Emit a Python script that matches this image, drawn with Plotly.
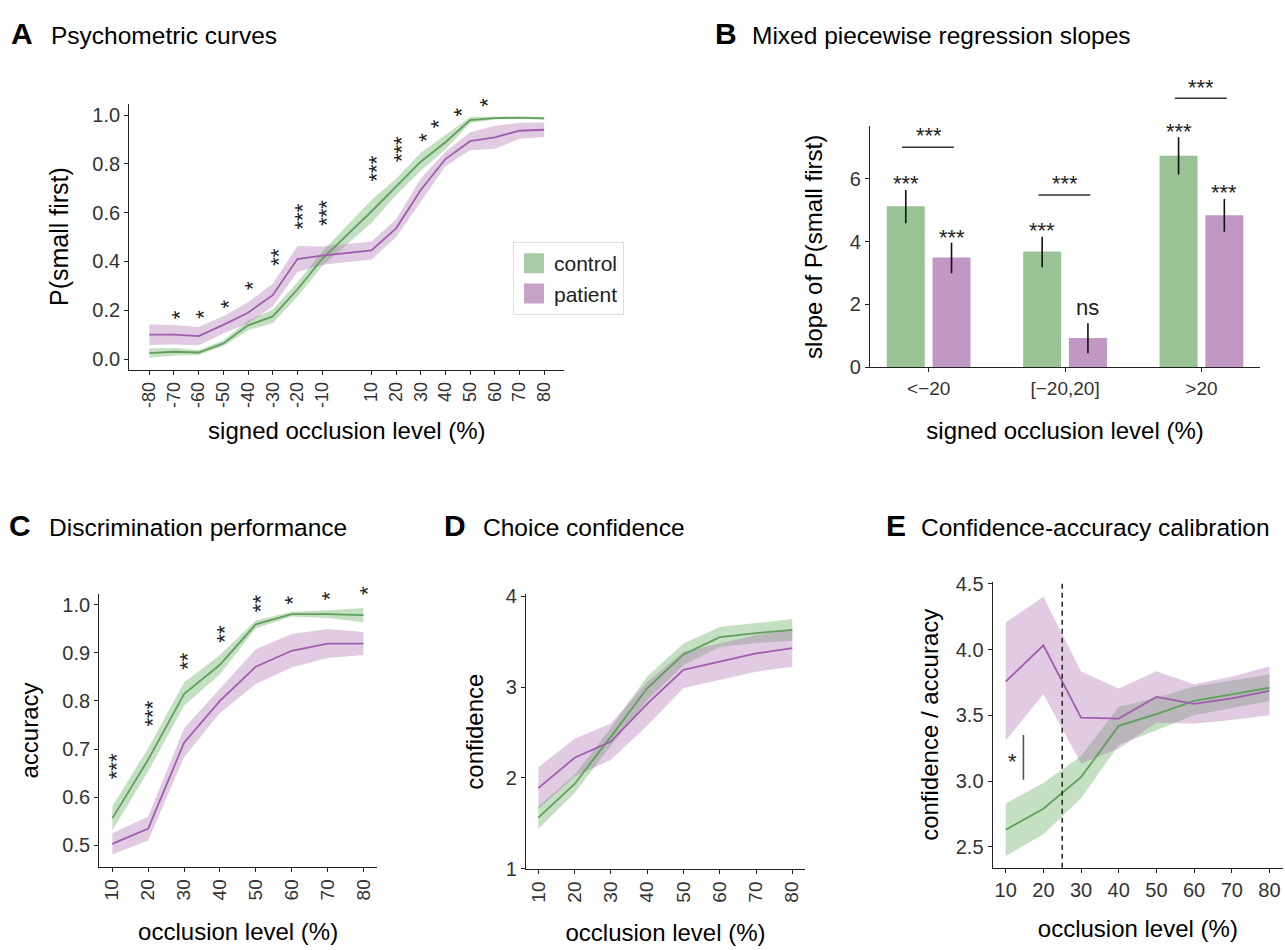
import plotly.graph_objects as go

FONT = "Liberation Sans, Arial, sans-serif"
W, H = 1285, 950

GREEN_LINE = "#5FA05B"
PURPLE_LINE = "#A05CAD"
GREEN_FILL = "rgba(110,175,105,0.40)"
PURPLE_FILL = "rgba(165,105,175,0.35)"
GREEN_BAR = "#99C295"
PURPLE_BAR = "#C197C4"
GREEN_KEY = "#A8CCA5"
PURPLE_KEY = "#C6A2C9"
TICK_COLOR = "#333333"

groups = ["control", "patient"]

# ---------------- Panel A: psychometric curves ----------------
a_levels = [-80, -70, -60, -50, -40, -30, -20, -10, 10, 20, 30, 40, 50, 60, 70, 80]
a_control = [0.024, 0.030, 0.027, 0.064, 0.138, 0.175, 0.285, 0.410, 0.605, 0.706, 0.809, 0.889, 0.980, 0.988, 0.990, 0.987]
a_control_se = [0.019, 0.015, 0.010, 0.012, 0.020, 0.028, 0.030, 0.030, 0.047, 0.033, 0.037, 0.030, 0.012, 0.006, 0.005, 0.006]
a_patient = [0.100, 0.100, 0.094, 0.140, 0.190, 0.262, 0.410, 0.424, 0.445, 0.536, 0.693, 0.820, 0.893, 0.909, 0.936, 0.940]
a_patient_se = [0.042, 0.040, 0.037, 0.035, 0.043, 0.047, 0.053, 0.037, 0.037, 0.037, 0.047, 0.030, 0.037, 0.047, 0.033, 0.030]
a_sig_x = [-70, -60, -50, -40, -30, -20, -10, 10, 20, 30, 35.5, 44.5, 55]
a_sig_y = [0.184, 0.184, 0.225, 0.300, 0.418, 0.586, 0.600, 0.783, 0.861, 0.910, 0.964, 1.013, 1.053]
a_sig_lab = ["*", "*", "*", "*", "**", "***", "***", "***", "***", "*", "*", "*", "*"]

# ---------------- Panel B: regression slopes ----------------
b_categories = ["<\u221220", "[\u221220,20]", ">20"]
b_control = [5.12, 3.68, 6.73]
b_control_hi = [5.64, 4.15, 7.32]
b_control_lo = [4.58, 3.18, 6.13]
b_patient = [3.49, 0.93, 4.84]
b_patient_hi = [3.96, 1.40, 5.35]
b_patient_lo = [2.99, 0.45, 4.31]
b_control_lab = ["***", "***", "***"]
b_control_lab_y = [6.00, 4.50, 7.66]
b_patient_lab = ["***", "ns", "***"]
b_patient_lab_y = [4.29, 1.90, 5.71]
b_bracket_y = [7.00, 5.48, 8.56]
b_bracket_lab = ["***", "***", "***"]
b_bracket_lab_y = [7.54, 6.00, 9.07]

# ---------------- Panels C, D, E ----------------
occ_levels = [10, 20, 30, 40, 50, 60, 70, 80]

c_control = [0.556, 0.678, 0.814, 0.875, 0.959, 0.980, 0.980, 0.978]
c_control_se = [0.025, 0.024, 0.024, 0.020, 0.008, 0.005, 0.008, 0.015]
c_patient = [0.503, 0.535, 0.713, 0.800, 0.871, 0.904, 0.919, 0.919]
c_patient_se = [0.022, 0.025, 0.030, 0.025, 0.036, 0.035, 0.030, 0.024]
c_sig_x = [10, 19.7, 29.7, 39.8, 49.8, 58.9, 69.4, 79.6]
c_sig_y = [0.665, 0.774, 0.883, 0.940, 1.003, 1.010, 1.018, 1.030]
c_sig_lab = ["***", "***", "**", "**", "**", "*", "*", "*"]

d_control = [1.564, 1.934, 2.455, 2.987, 3.360, 3.550, 3.594, 3.630]
d_control_se = [0.125, 0.100, 0.100, 0.130, 0.120, 0.110, 0.110, 0.120]
d_patient = [1.888, 2.222, 2.400, 2.815, 3.190, 3.280, 3.370, 3.430]
d_patient_se = [0.230, 0.210, 0.200, 0.240, 0.200, 0.200, 0.200, 0.205]

e_control = [2.630, 2.790, 3.030, 3.420, 3.510, 3.610, 3.660, 3.710]
e_control_se = [0.200, 0.195, 0.160, 0.145, 0.124, 0.110, 0.105, 0.100]
e_patient = [3.756, 4.033, 3.483, 3.475, 3.640, 3.587, 3.630, 3.686]
e_patient_se = [0.450, 0.370, 0.350, 0.230, 0.195, 0.150, 0.165, 0.185]
e_cutoff = 25
e_sig_x = 11.9
e_sig_y = 3.19
e_sig_bar_x = 14.7
e_sig_bar_y = [3.01, 3.35]

panel_titles = ["Psychometric curves", "Mixed piecewise regression slopes",
                "Discrimination performance", "Choice confidence",
                "Confidence-accuracy calibration"]
panel_letters = ["A", "B", "C", "D", "E"]


def dom_x(p0, p1):
    return [p0 / W, p1 / W]


def dom_y(top, bottom):
    return [1 - bottom / H, 1 - top / H]


def ribbon(x, m, se, fill, xa, ya):
    lo = [a - b for a, b in zip(m, se)]
    hi = [a + b for a, b in zip(m, se)]
    return go.Scatter(x=list(x) + list(x)[::-1], y=hi + lo[::-1], mode="lines",
                      fill="toself", fillcolor=fill, line=dict(width=0),
                      hoverinfo="skip", showlegend=False, xaxis=xa, yaxis=ya)


def line(x, m, color, xa, ya, name):
    return go.Scatter(x=x, y=m, mode="lines", line=dict(color=color, width=1.8),
                      name=name, showlegend=False, xaxis=xa, yaxis=ya)


fig = go.Figure()

# Panel A
fig.add_trace(ribbon(a_levels, a_control, a_control_se, GREEN_FILL, "x", "y"))
fig.add_trace(ribbon(a_levels, a_patient, a_patient_se, PURPLE_FILL, "x", "y"))
fig.add_trace(line(a_levels, a_control, GREEN_LINE, "x", "y", groups[0]))
fig.add_trace(line(a_levels, a_patient, PURPLE_LINE, "x", "y", groups[1]))
# legend keys
for g, col in zip(groups, [GREEN_KEY, PURPLE_KEY]):
    fig.add_trace(go.Scatter(x=[None], y=[None], mode="markers", name=g,
                             marker=dict(symbol="square", size=16, color=col,
                                         line=dict(color=col, width=4)),
                             showlegend=True, xaxis="x", yaxis="y"))

# Panel B
b_x = list(range(len(b_categories)))
for vals, hi, lo, col, g in [(b_control, b_control_hi, b_control_lo, GREEN_BAR, groups[0]),
                             (b_patient, b_patient_hi, b_patient_lo, PURPLE_BAR, groups[1])]:
    fig.add_trace(go.Bar(x=b_x, y=vals, name=g, marker=dict(color=col, line=dict(width=0)),
                         error_y=dict(type="data", symmetric=False,
                                      array=[h - v for h, v in zip(hi, vals)],
                                      arrayminus=[v - l for v, l in zip(vals, lo)],
                                      color="#111111", thickness=1.6, width=0),
                         showlegend=False, xaxis="x2", yaxis="y2"))

# Panel C
fig.add_trace(ribbon(occ_levels, c_control, c_control_se, GREEN_FILL, "x3", "y3"))
fig.add_trace(ribbon(occ_levels, c_patient, c_patient_se, PURPLE_FILL, "x3", "y3"))
fig.add_trace(line(occ_levels, c_control, GREEN_LINE, "x3", "y3", groups[0]))
fig.add_trace(line(occ_levels, c_patient, PURPLE_LINE, "x3", "y3", groups[1]))

# Panel D
fig.add_trace(ribbon(occ_levels, d_control, d_control_se, GREEN_FILL, "x4", "y4"))
fig.add_trace(ribbon(occ_levels, d_patient, d_patient_se, PURPLE_FILL, "x4", "y4"))
fig.add_trace(line(occ_levels, d_control, GREEN_LINE, "x4", "y4", groups[0]))
fig.add_trace(line(occ_levels, d_patient, PURPLE_LINE, "x4", "y4", groups[1]))

# Panel E
fig.add_trace(ribbon(occ_levels, e_control, e_control_se, GREEN_FILL, "x5", "y5"))
fig.add_trace(ribbon(occ_levels, e_patient, e_patient_se, PURPLE_FILL, "x5", "y5"))
fig.add_trace(line(occ_levels, e_control, GREEN_LINE, "x5", "y5", groups[0]))
fig.add_trace(line(occ_levels, e_patient, PURPLE_LINE, "x5", "y5", groups[1]))


def axis(domain, rng, anchor, title, title_size=24, standoff=14, tickfont=20, **kw):
    d = dict(domain=domain, range=rng, anchor=anchor, showline=True, linecolor="#222222",
             linewidth=1.3, ticks="outside", ticklen=4, tickwidth=1.3, tickcolor="#222222",
             showgrid=False, zeroline=False,
             tickfont=dict(family=FONT, size=tickfont, color=TICK_COLOR),
             title=dict(text=title, font=dict(family=FONT, size=title_size, color="black"),
                        standoff=standoff))
    d.update(kw)
    return d


A_Y = [-0.043, 1.047]
B_Y = [0, 7.66]
C_Y = [0.456, 1.021]
D_Y = [1, 4.02]
E_Y = [2.34, 4.517]

layout = dict(
    width=W, height=H, margin=dict(l=0, r=0, t=0, b=0),
    paper_bgcolor="white", plot_bgcolor="white",
    font=dict(family=FONT, color="black"),
    barmode="group", bargap=0.329, bargroupgap=0.17,
    showlegend=True,
    legend=dict(x=513 / W, y=1 - 238 / H, xanchor="left", yanchor="top",
                bgcolor="white", bordercolor="#DDDDDD", borderwidth=1,
                font=dict(family=FONT, size=21, color="#222222"), tracegroupgap=0),
    xaxis=axis(dom_x(129.3, 564.4), [-88.1, 88.2], "y", "signed occlusion level (%)",
               standoff=15, tickfont=18, tickvals=a_levels, ticktext=[str(v) for v in a_levels],
               tickangle=-90),
    yaxis=axis(dom_y(96.7, 368.3), A_Y, "x", "P(small first)", title_size=25, standoff=16,
               tickvals=[0, 0.2, 0.4, 0.6, 0.8, 1.0], tickformat=".1f"),
    xaxis2=axis(dom_x(870, 1260.1), [-0.43, 2.43], "y2", "signed occlusion level (%)",
                standoff=23, tickfont=19, tickvals=b_x, ticktext=b_categories),
    yaxis2=axis(dom_y(120, 366), B_Y, "x2", "slope of P(small first)", standoff=20,
                tickvals=[0, 2, 4, 6]),
    xaxis3=axis(dom_x(99.3, 377), [6.37, 83.8], "y3", "occlusion level (%)", standoff=23,
                tickfont=19, tickvals=occ_levels, tickangle=-90),
    yaxis3=axis(dom_y(598, 876), C_Y, "x3", "accuracy", standoff=16,
                tickvals=[0.5, 0.6, 0.7, 0.8, 0.9, 1.0], tickformat=".1f"),
    xaxis4=axis(dom_x(526, 805), [6.6, 83.5], "y4", "occlusion level (%)", standoff=22,
                tickfont=19, tickvals=occ_levels, tickangle=-90),
    yaxis4=axis(dom_y(598, 878.3), D_Y, "x4", "confidence", standoff=15,
                tickvals=[1, 2, 3, 4]),
    xaxis5=axis(dom_x(992.7, 1283), [6.55, 83.6], "y5", "occlusion level (%)", standoff=20,
                tickvals=occ_levels, tickangle=0),
    yaxis5=axis(dom_y(585, 877.3), E_Y, "x5", "confidence / accuracy", standoff=10,
                tickvals=[2.5, 3.0, 3.5, 4.0, 4.5], tickformat=".1f"),
)
fig.update_layout(**layout)

ann = []
shapes = []
STAR = 22


def frac(v, rng):
    return (v - rng[0]) / (rng[1] - rng[0])


def note(**kw):
    d = dict(showarrow=False, xanchor="center", yanchor="middle",
             font=dict(family=FONT, size=STAR, color="#222222"))
    d.update(kw)
    return d


# Panel titles
letter_x = [9.6, 713.7, 8.3, 442.7, 885.0]
title_x = [49.7, 751.3, 48.3, 481.7, 920.0]
baselines = [35.5, 35.5, 538.3, 538.3, 538.3]
for L, T, lx, tx, bl in zip(panel_letters, panel_titles, letter_x, title_x, baselines):
    ann.append(dict(text="<b>%s</b>" % L, x=lx / W, y=1 - (bl - 0.3465 * 30) / H, xref="paper",
                    yref="paper", xanchor="left", yanchor="middle", showarrow=False,
                    font=dict(family=FONT, size=30, color="black"), borderpad=0))
    ann.append(dict(text=T, x=tx / W, y=1 - (bl - 0.3465 * 24.5) / H, xref="paper",
                    yref="paper", xanchor="left", yanchor="middle", showarrow=False,
                    font=dict(family=FONT, size=24.5, color="black"), borderpad=0))

# Panel A significance (rotated)
for xv, yv, lab in zip(a_sig_x, a_sig_y, a_sig_lab):
    ann.append(note(text=lab, x=xv, y=frac(yv, A_Y), xref="x", yref="y domain",
                    textangle=-90, xshift=5))

# Panel B labels
off = (1 - 0.329) / 4
for i in range(len(b_categories)):
    ann.append(note(text=b_control_lab[i], x=i - off, y=frac(b_control_lab_y[i], B_Y),
                    xref="x2", yref="y2 domain", yshift=-5))
    lab = b_patient_lab[i]
    ann.append(note(text=lab, x=i + off, y=frac(b_patient_lab_y[i], B_Y),
                    xref="x2", yref="y2 domain", yshift=(0 if lab == "ns" else -5)))
    ann.append(note(text=b_bracket_lab[i], x=i, y=frac(b_bracket_lab_y[i], B_Y),
                    xref="x2", yref="y2 domain", yshift=-5))
    shapes.append(dict(type="line", xref="x2", yref="y2 domain", x0=i - 0.195, x1=i + 0.185,
                       y0=frac(b_bracket_y[i], B_Y), y1=frac(b_bracket_y[i], B_Y),
                       line=dict(color="#333333", width=1.5)))

# Panel C significance (rotated)
for xv, yv, lab in zip(c_sig_x, c_sig_y, c_sig_lab):
    ann.append(note(text=lab, x=xv, y=frac(yv, C_Y), xref="x3", yref="y3 domain",
                    textangle=-90, xshift=5))

# Panel E
shapes.append(dict(type="line", xref="x5", yref="y5 domain", x0=e_cutoff, x1=e_cutoff, y0=0, y1=1,
                   line=dict(color="#222222", width=1.5, dash="5px,4px")))
shapes.append(dict(type="line", xref="x5", yref="y5", x0=e_sig_bar_x, x1=e_sig_bar_x,
                   y0=e_sig_bar_y[0], y1=e_sig_bar_y[1], line=dict(color="#555555", width=1.6)))
ann.append(note(text="*", x=e_sig_x, y=e_sig_y, xref="x5", yref="y5", yshift=-5))

fig.update_layout(annotations=ann, shapes=shapes)
fig.write_html("out.html")
